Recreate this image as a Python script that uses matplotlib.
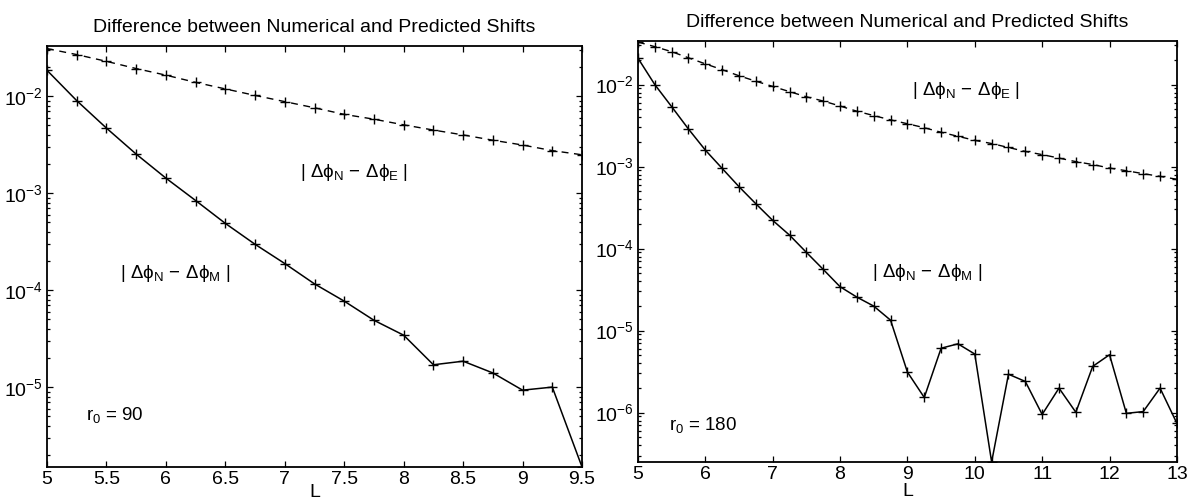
import numpy as np
import matplotlib
matplotlib.use("Agg")
import matplotlib.pyplot as plt
from matplotlib.ticker import LogLocator, NullFormatter

plt.rcParams['font.family'] = ['Liberation Sans', 'DejaVu Sans']
plt.rcParams['mathtext.fontset'] = 'custom'
plt.rcParams['mathtext.rm'] = 'Liberation Sans'
plt.rcParams['mathtext.it'] = 'Liberation Sans'
plt.rcParams['mathtext.bf'] = 'Liberation Sans:bold'
plt.rcParams['mathtext.sf'] = 'Liberation Sans'
plt.rcParams['mathtext.fallback'] = 'stixsans'

TITLE = "Difference between Numerical and Predicted Shifts"

# r0 = 90 run
L_90 = [5.0, 5.25, 5.5, 5.75, 6.0, 6.25, 6.5, 6.75, 7.0, 7.25,
        7.5, 7.75, 8.0, 8.25, 8.5, 8.75, 9.0, 9.25, 9.5]
err_E_90 = [3.1e-2, 2.69e-2, 2.29e-2, 1.93e-2, 1.65e-2, 1.39e-2, 1.19e-2,
            1.02e-2, 8.8e-3, 7.6e-3, 6.5e-3, 5.8e-3, 5.07e-3, 4.48e-3,
            3.99e-3, 3.52e-3, 3.14e-3, 2.75e-3, 2.49e-3]
err_M_90 = [1.85e-2, 9.0e-3, 4.69e-3, 2.53e-3, 1.43e-3, 8.4e-4, 4.88e-4,
            2.97e-4, 1.88e-4, 1.16e-4, 7.7e-5, 4.89e-5, 3.43e-5, 1.7e-5,
            1.85e-5, 1.4e-5, 9.3e-6, 1.0e-5, 1.5e-6]

# r0 = 180 run
L_180 = [5.0, 5.25, 5.5, 5.75, 6.0, 6.25, 6.5, 6.75, 7.0, 7.25, 7.5,
         7.75, 8.0, 8.25, 8.5, 8.75, 9.0, 9.25, 9.5, 9.75, 10.0, 10.25,
         10.5, 10.75, 11.0, 11.25, 11.5, 11.75, 12.0, 12.25, 12.5, 12.75, 13.0]
err_E_180 = [3.3e-2, 2.90e-2, 2.52e-2, 2.12e-2, 1.79e-2, 1.52e-2, 1.28e-2,
             1.10e-2, 9.5e-3, 8.2e-3, 7.1e-3, 6.3e-3, 5.48e-3, 4.73e-3,
             4.19e-3, 3.71e-3, 3.33e-3, 2.98e-3, 2.62e-3, 2.34e-3, 2.09e-3,
             1.91e-3, 1.71e-3, 1.53e-3, 1.40e-3, 1.27e-3, 1.15e-3, 1.06e-3,
             9.6e-4, 8.9e-4, 8.2e-4, 7.6e-4, 7.0e-4]
err_M_180 = [2.1e-2, 1.0e-2, 5.38e-3, 2.87e-3, 1.59e-3, 9.5e-4, 5.69e-4,
             3.52e-4, 2.21e-4, 1.46e-4, 9.0e-5, 5.58e-5, 3.43e-5, 2.56e-5,
             1.99e-5, 1.34e-5, 3.12e-6, 1.53e-6, 6.1e-6, 6.9e-6, 5.18e-6,
             2.5e-7, 2.94e-6, 2.40e-6, 9.5e-7, 1.99e-6, 1.01e-6, 3.66e-6,
             5.08e-6, 9.8e-7, 1.03e-6, 1.99e-6, 7.4e-7]

LABEL_E = r'$|\ \Delta\phi_N\,-\,\Delta\phi_E\ |$'
LABEL_M = r'$|\ \Delta\phi_N\,-\,\Delta\phi_M\ |$'


def style_axes(ax, xticks, xlim, ylim, labelpad):
    ax.set_yscale('log')
    ax.set_xlim(*xlim)
    ax.set_ylim(*ylim)
    ax.set_xticks(xticks)
    ax.set_xticklabels([('%g' % t) for t in xticks])
    ax.yaxis.set_major_locator(LogLocator(base=10))
    ax.yaxis.set_minor_locator(LogLocator(base=10, subs=np.arange(2, 10)))
    ax.yaxis.set_minor_formatter(NullFormatter())
    ax.tick_params(which='both', direction='in', top=True, right=True,
                   labelsize=14, width=0.9, pad=3)
    ax.tick_params(which='major', length=4.5)
    ax.tick_params(which='minor', length=2.5)
    for sp in ax.spines.values():
        sp.set_linewidth(1.3)
    ax.set_title(TITLE, fontsize=14, pad=10)
    ax.set_xlabel('L', fontsize=14, labelpad=labelpad)


def draw_panel(ax, L, errE, errM):
    ax.plot(L, errE, color='black', lw=1.0, dashes=(5, 4),
            marker='+', ms=7, mew=1.0)
    ax.plot(L, errM, color='black', lw=1.1,
            marker='+', ms=7, mew=1.0)


fig = plt.figure(figsize=(12.03, 5.03), dpi=100)
ax1 = fig.add_axes([0.0391, 0.0716, 0.4447, 0.837])
ax2 = fig.add_axes([0.5303, 0.0815, 0.448, 0.837])

draw_panel(ax1, L_90, err_E_90, err_M_90)
style_axes(ax1, np.arange(5, 9.51, 0.5), (5, 9.5), (1.5e-6, 3.3e-2), -3)
ax1.text(7.13, 1.63e-3, LABEL_E, fontsize=13.5, va='center')
ax1.text(5.61, 1.5e-4, LABEL_M, fontsize=13.5, va='center')
ax1.text(5.33, 5.2e-6, r'$r_0$ = 90', fontsize=13.5, va='center')

draw_panel(ax2, L_180, err_E_180, err_M_180)
style_axes(ax2, np.arange(5, 13.1, 1), (5, 13), (2.5e-7, 3.4e-2), 0)
ax2.text(9.07, 8.5e-3, LABEL_E, fontsize=13.5, va='center')
ax2.text(8.48, 5.1e-5, LABEL_M, fontsize=13.5, va='center')
ax2.text(5.46, 7.1e-7, r'$r_0$ = 180', fontsize=13.5, va='center')

fig.savefig('out.png', dpi=100)
